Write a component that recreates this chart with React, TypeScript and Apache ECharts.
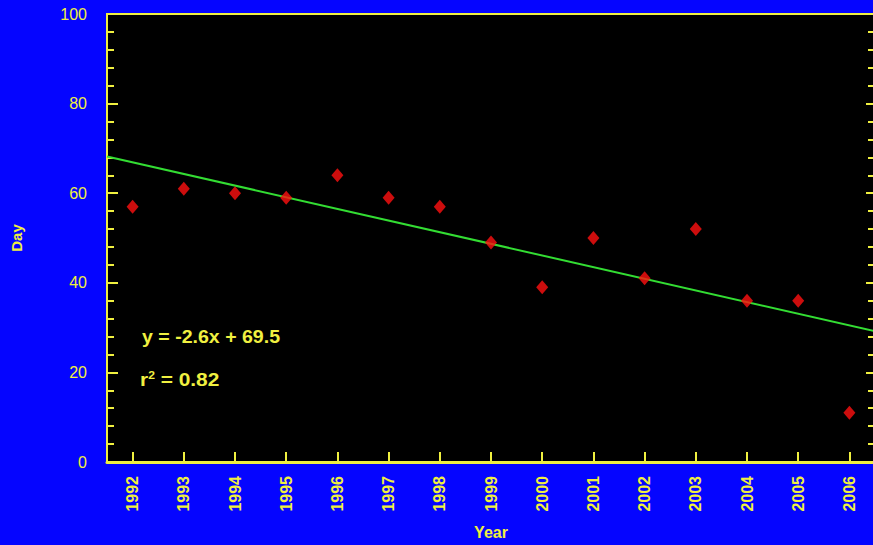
import React, { useEffect, useRef } from "react";
import * as echarts from "echarts";

// Observation years and the day value recorded in each
const years: string[] = [
  "1992", "1993", "1994", "1995", "1996", "1997", "1998", "1999",
  "2000", "2001", "2002", "2003", "2004", "2005", "2006",
];
const days: number[] = [57, 61, 60, 59, 64, 59, 57, 49, 39, 50, 41, 52, 36, 36, 11];

// Linear fit, x = 1 for the first year
const slope = -2.6;
const intercept = 69.5;
const rSquared = 0.82;

const yTicks = { min: 0, max: 100, interval: 20 };

const YELLOW = "#f0f040";
const BLUE = "#0505ff";
const FONT = "'Liberation Sans', Arial, sans-serif";

export default function App() {
  const ref = useRef<HTMLDivElement>(null);

  useEffect(() => {
    if (!ref.current) return;
    const chart = echarts.init(ref.current, undefined, { renderer: "svg" });

    const xLo = 0.5;
    const xHi = years.length + 0.5;
    const fit = (x: number) => intercept + slope * x;

    const tickStyle = { color: YELLOW, width: 2 };

    chart.setOption({
      animation: false,
      backgroundColor: BLUE,
      grid: {
        left: 107,
        top: 14,
        right: -2,
        bottom: 83,
        outerBoundsMode: "none",
        containLabel: false,
        show: true,
        backgroundColor: "#000000",
        borderColor: YELLOW,
        borderWidth: 2,
      },
      xAxis: [
        {
          type: "category",
          data: years,
          boundaryGap: true,
          position: "bottom",
          axisLine: { show: true, lineStyle: { color: YELLOW, width: 3 } },
          axisTick: {
            show: true,
            alignWithLabel: true,
            inside: true,
            length: 10,
            lineStyle: tickStyle,
          },
          axisLabel: {
            rotate: 90,
            margin: 14,
            color: YELLOW,
            fontFamily: FONT,
            fontWeight: "bold",
            fontSize: 16,
          },
          splitLine: { show: false },
          name: "Year",
          nameLocation: "middle",
          nameGap: 62,
          nameTextStyle: {
            color: YELLOW,
            fontFamily: FONT,
            fontWeight: "bold",
            fontSize: 16,
          },
        },
        {
          type: "value",
          min: xLo,
          max: xHi,
          show: false,
        },
      ],
      yAxis: [
        {
          type: "value",
          min: yTicks.min,
          max: yTicks.max,
          interval: yTicks.interval,
          position: "left",
          axisLine: { show: true, lineStyle: { color: YELLOW, width: 2 } },
          axisTick: { show: true, inside: true, length: 11, lineStyle: tickStyle },
          minorTick: { show: true, splitNumber: 5, length: 7, lineStyle: tickStyle },
          axisLabel: {
            margin: 20,
            color: YELLOW,
            fontFamily: FONT,
            fontSize: 16,
          },
          splitLine: { show: false },
          name: "Day",
          nameLocation: "middle",
          nameRotate: 90,
          nameGap: 83,
          nameTextStyle: {
            color: YELLOW,
            fontFamily: FONT,
            fontWeight: "bold",
            fontSize: 15,
          },
        },
        {
          type: "value",
          min: yTicks.min,
          max: yTicks.max,
          interval: yTicks.interval,
          position: "right",
          axisLine: { show: true, lineStyle: { color: YELLOW, width: 2 } },
          axisTick: { show: true, inside: true, length: 9, lineStyle: tickStyle },
          minorTick: { show: true, splitNumber: 5, length: 7, lineStyle: tickStyle },
          axisLabel: { show: false },
          splitLine: { show: false },
        },
      ],
      series: [
        {
          name: "Fit",
          type: "line",
          xAxisIndex: 1,
          yAxisIndex: 0,
          data: [
            [xLo, fit(xLo)],
            [xHi, fit(xHi)],
          ],
          showSymbol: false,
          symbol: "none",
          lineStyle: { color: "#33dd33", width: 2 },
          z: 2,
        },
        {
          name: "Day",
          type: "scatter",
          xAxisIndex: 0,
          yAxisIndex: 0,
          data: days,
          symbol: "diamond",
          symbolSize: [12, 14],
          itemStyle: { color: "#ff1010" },
          z: 3,
        },
      ],
      graphic: [
        {
          type: "text",
          x: 142,
          y: 327,
          scaleX: 1.03,
          style: {
            text: `y = ${slope}x + ${intercept}`,
            fill: YELLOW,
            font: `bold 19px ${FONT}`,
          },
        },
        {
          type: "text",
          x: 140,
          y: 370,
          scaleX: 1.1,
          style: {
            text: `r{sup|2} = ${rSquared}`,
            fill: YELLOW,
            font: `bold 19px ${FONT}`,
            rich: {
              sup: {
                fill: YELLOW,
                font: `bold 11px ${FONT}`,
                verticalAlign: "top",
                padding: [0, 0, 8, 0],
              },
            },
          },
        },
      ],
    });

    return () => chart.dispose();
  }, []);

  return (
    <div
      ref={ref}
      style={{ position: "fixed", left: 0, top: 0, width: 873, height: 545 }}
    />
  );
}
